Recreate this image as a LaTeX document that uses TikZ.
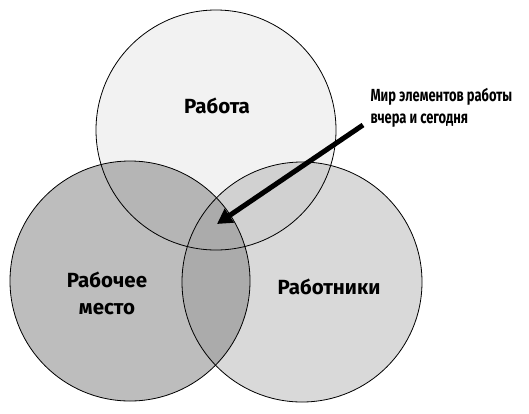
\documentclass[tikz,border=0pt]{standalone}
\usepackage{fontspec}
\setmainfont{Fira Sans}
\newfontfamily\narrowfont[FakeStretch=0.74]{Fira Sans}
\usetikzlibrary{arrows.meta,positioning}

\begin{document}
\begin{tikzpicture}[x=1pt,y=-1pt,
    ring/.style={circle,draw,line width=0.8pt,minimum size=240pt,inner sep=0pt},
    lbl/.style={font=\bfseries\fontsize{20.5}{27}\selectfont,align=center},
    note/.style={font=\narrowfont\bfseries\fontsize{17.5}{22}\selectfont,align=left}]
    \useasboundingbox (0,0) rectangle (529,413);
    % fills
    \fill[black!5]  (216,130) circle (120pt);
    \fill[black!26] (130,281) circle (120pt);
    \fill[black!15] (302,282) circle (120pt);
    \begin{scope}
        \clip (216,130) circle (120pt);
        \fill[black!29] (130,281) circle (120pt);
        \fill[black!18] (302,282) circle (120pt);
    \end{scope}
    \begin{scope}
        \clip (130,281) circle (120pt);
        \fill[black!33] (302,282) circle (120pt);
    \end{scope}
    % outlines
    \node[ring]  (work)   at (216,130) {};
    \node[ring]  (place)  at (130,281) {};
    \node[ring]  (people) at (302,282) {};
    \node[lbl]   (w) at (217,106)  {Работа};
    \node[lbl]   (p) at (107,293)  {Рабочее\\место};
    \node[lbl]   (r) at (329,287)  {Работники};
    \node[note,anchor=north west] (n) at (367,85) {Мир элементов работы\\вчера и сегодня};
    \coordinate (tail) at (363,125);
    \coordinate (core) at (217,224);
    \draw[line width=5pt,-{Triangle[length=15pt,width=16pt]}] (tail) -- (core);
\end{tikzpicture}
\end{document}
